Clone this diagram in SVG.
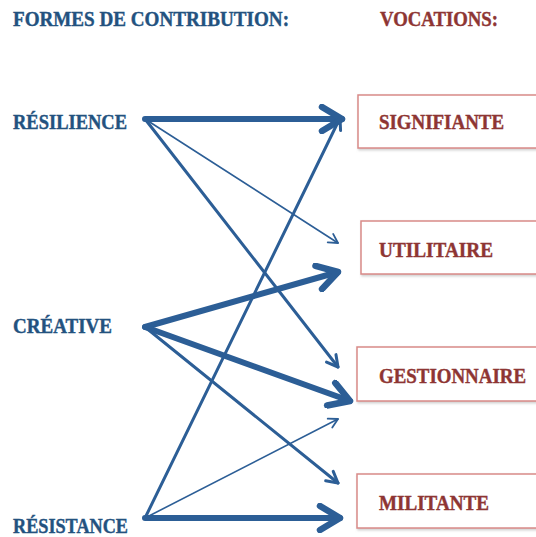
<svg xmlns="http://www.w3.org/2000/svg" width="536" height="537" viewBox="0 0 536 537">
<style>
.t{font-family:"Liberation Serif","DejaVu Serif",serif;font-weight:bold;font-size:20px;stroke-width:0.4}
.b{fill:#23527f;stroke:#23527f}
.r{fill:#8e3533;stroke:#8e3533}
.box{fill:#fff;stroke:#d98a88;stroke-width:1.5}
.c{fill:none;stroke:#2c5e96;stroke-linecap:round;stroke-linejoin:round}
.k{stroke-width:6}
.m{stroke-width:3}
.n{stroke-width:1.6}
</style>
<defs>
<filter id="sh" x="-10%" y="-10%" width="130%" height="140%"><feDropShadow dx="1" dy="1.5" stdDeviation="1" flood-color="#999" flood-opacity="0.5"/></filter>
<marker id="ak" markerUnits="userSpaceOnUse" viewBox="-24 -15 28 30" markerWidth="28" markerHeight="30" refX="0" refY="0" orient="auto"><path d="M-20,-12 L0,0 L-20,12" fill="none" stroke="#2c5e96" stroke-width="6.5" stroke-linecap="round" stroke-linejoin="round"/></marker>
<marker id="am" markerUnits="userSpaceOnUse" viewBox="-14 -9 17 18" markerWidth="17" markerHeight="18" refX="0" refY="0" orient="auto"><path d="M-11,-6 L0,0 L-11,6" fill="none" stroke="#2c5e96" stroke-width="3" stroke-linecap="round" stroke-linejoin="round"/></marker>
<marker id="an" markerUnits="userSpaceOnUse" viewBox="-12 -8 14 16" markerWidth="14" markerHeight="16" refX="0" refY="0" orient="auto"><path d="M-9,-5 L0,0 L-9,5" fill="none" stroke="#2c5e96" stroke-width="1.8" stroke-linecap="round" stroke-linejoin="round"/></marker>
</defs>

<g id="headers">
<text class="t b" x="13" y="26" font-size="21" textLength="276" lengthAdjust="spacingAndGlyphs">FORMES DE CONTRIBUTION:</text>
<text class="t r" x="380" y="26" font-size="21" textLength="118" lengthAdjust="spacingAndGlyphs">VOCATIONS:</text>
</g>

<g id="resilience"><text class="t b" x="13" y="129" textLength="114" lengthAdjust="spacingAndGlyphs">RÉSILIENCE</text></g>
<g id="creative"><text class="t b" x="13" y="333" textLength="99" lengthAdjust="spacingAndGlyphs">CRÉATIVE</text></g>
<g id="resistance"><text class="t b" x="13" y="533" textLength="115" lengthAdjust="spacingAndGlyphs">RÉSISTANCE</text></g>

<g id="signifiante"><rect class="box" filter="url(#sh)" x="358" y="95" width="200" height="53"/><text class="t r" x="379" y="129" textLength="125" lengthAdjust="spacingAndGlyphs">SIGNIFIANTE</text></g>
<g id="utilitaire"><rect class="box" filter="url(#sh)" x="361" y="221" width="200" height="53"/><text class="t r" x="379" y="257" textLength="114" lengthAdjust="spacingAndGlyphs">UTILITAIRE</text></g>
<g id="gestionnaire"><rect class="box" filter="url(#sh)" x="357" y="347" width="200" height="54"/><text class="t r" x="379" y="383" textLength="147" lengthAdjust="spacingAndGlyphs">GESTIONNAIRE</text></g>
<g id="militante"><rect class="box" filter="url(#sh)" x="357" y="474" width="200" height="54"/><text class="t r" x="379" y="510" textLength="110" lengthAdjust="spacingAndGlyphs">MILITANTE</text></g>

<g id="connectors">
<line class="c k" x1="145" y1="119" x2="342" y2="119" marker-end="url(#ak)"/>
<line class="c n" x1="145" y1="119" x2="338" y2="243" marker-end="url(#an)"/>
<line class="c m" x1="145" y1="119" x2="338" y2="367" marker-end="url(#am)"/>
<line class="c k" x1="145" y1="327" x2="338" y2="272" marker-end="url(#ak)"/>
<line class="c k" x1="145" y1="327" x2="350" y2="401" marker-end="url(#ak)"/>
<line class="c m" x1="145" y1="327" x2="338" y2="483" marker-end="url(#am)"/>
<line class="c m" x1="145" y1="518" x2="340" y2="118" marker-end="url(#am)"/>
<line class="c n" x1="145" y1="518" x2="338" y2="419" marker-end="url(#an)"/>
<line class="c k" x1="145" y1="518" x2="340" y2="518" marker-end="url(#ak)"/>
</g>
</svg>
